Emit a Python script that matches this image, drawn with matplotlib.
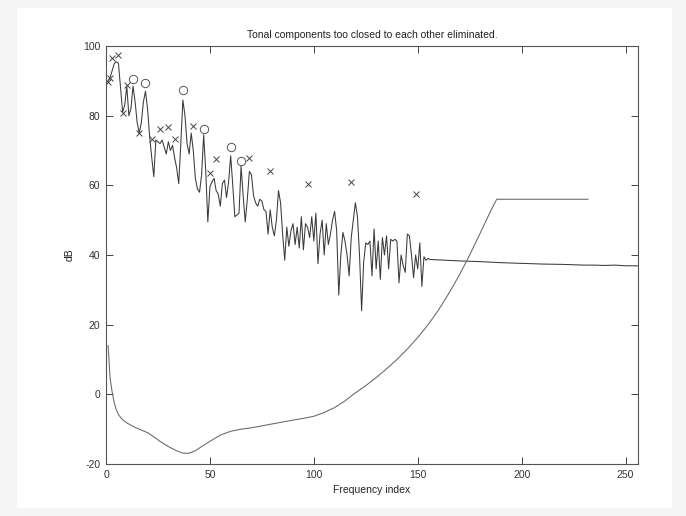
import matplotlib.pyplot as plt
from matplotlib.patches import Rectangle

# power spectrum, frequency index 1..155 (noisy part)
spec_db = [
    90, 91, 93, 95, 95.5, 95, 88, 81, 83, 88.5,
    80, 82, 88.5, 84, 78, 75, 78, 84, 87, 82,
    74, 68, 62.5, 73, 72.5, 72, 73, 71, 69, 72.5,
    70, 71.5, 68, 65, 60.5, 72, 84.5, 80, 72, 69,
    75, 70, 62, 59, 58, 63, 74.5, 64, 49.5, 59.5,
    61, 62, 58.5, 57.5, 54, 60.5, 61.5, 56.5, 61, 68.5,
    60, 51, 51.5, 52, 65.5, 57, 49.5, 56, 64, 63,
    57, 55, 54, 56, 55.5, 53, 52.5, 46, 53, 48,
    45.5, 50, 58.5, 55, 46, 38.5, 48, 42.5, 47, 49,
    43, 48, 42, 51, 41.5, 49, 48, 45, 51, 44,
    52, 37.5, 46, 50, 40, 49, 43, 46, 50, 52.5,
    47, 28.5, 40, 46.5, 44, 40, 34, 45, 50, 55,
    51, 40, 24, 38, 43.5, 43, 44, 34, 47.5, 36,
    44, 33, 45, 40, 45.5, 36, 44.5, 44, 44.5, 44,
    32, 40, 37, 35, 46, 45.5, 40, 33.5, 40, 36,
    43.5, 31, 39.5, 38.5, 39,
]
spec_idx = list(range(1, len(spec_db) + 1))

# smooth upper part of the spectrum
tail_idx = [156, 160, 170, 180, 190, 200, 210, 220, 225, 230, 235, 240, 245, 250, 256]
tail_db = [38.7, 38.6, 38.3, 38.1, 37.8, 37.6, 37.4, 37.3, 37.2, 37.1, 37.1, 37.0, 37.1, 36.9, 36.9]

# absolute threshold of hearing
ath_idx = [1, 2, 3, 4, 5, 6, 7, 8, 10, 13, 16, 18, 20, 23, 26, 30, 34, 37, 40, 43, 46,
           50, 55, 60, 65, 70, 80, 90, 95, 100, 105, 110, 115, 119, 125, 130, 135, 140,
           145, 150, 155, 160, 165, 170, 175, 180, 185, 188, 232]
ath_db = [14, 4.5, 0.5, -2.5, -4.5, -5.8, -6.6, -7.3, -8.2, -9.2, -10, -10.5, -11, -12.2,
          -13.5, -15, -16.2, -16.9, -16.9, -16.2, -15, -13.5, -11.7, -10.6, -10, -9.6,
          -8.5, -7.4, -6.9, -6.3, -5.2, -3.8, -1.9, 0, 2.5, 4.8, 7.3, 10, 13, 16.3, 20,
          24.2, 29, 34.2, 40, 46.2, 52.5, 56, 56]

# non-tonal components (x) and tonal components (o)
nontonal_idx = [1, 2, 3, 6, 8, 10, 16, 22, 26, 30, 33, 42, 50, 53, 69, 79, 97, 118, 149]
nontonal_db = [89.8, 90.8, 96.6, 97.4, 80.9, 88.8, 75.1, 73.2, 76.2, 76.8, 73.2, 77.1,
               63.5, 67.6, 67.9, 64.2, 60.4, 60.9, 57.4]
tonal_idx = [13, 19, 37, 47, 60, 65]
tonal_db = [90.4, 89.5, 87.4, 76.3, 71.1, 67.1]

plt.rcParams['font.family'] = ['Liberation Sans', 'DejaVu Sans']
plt.rcParams['font.size'] = 7.5
plt.rcParams['axes.unicode_minus'] = False

fig = plt.figure(figsize=(6.86, 5.16), dpi=100, facecolor='#f5f5f5')
fig.patches.append(Rectangle((17 / 686, 8 / 516), 655 / 686, 500 / 516,
                             transform=fig.transFigure, facecolor='white',
                             edgecolor='none', zorder=-1))
ax = fig.add_axes([106 / 686, 52 / 516, 532 / 686, 418 / 516])

ax.plot(spec_idx + tail_idx, spec_db + tail_db, color='#3a3a3a', lw=0.75)
ax.plot(ath_idx, ath_db, color='#666666', lw=0.75)
ax.plot(nontonal_idx, nontonal_db, 'x', color='#444444', ms=4.5, mew=0.7)
ax.plot(tonal_idx, tonal_db, 'o', mfc='none', mec='#555555', ms=6, mew=0.7)

ax.set_xlim(0, 256)
ax.set_ylim(-20, 100)
ax.set_xticks([0, 50, 100, 150, 200, 250])
ax.set_yticks([-20, 0, 20, 40, 60, 80, 100])
ax.tick_params(direction='in', top=True, right=True, length=5, width=0.7,
               colors='#444444', labelcolor='#333333', pad=4)
for s in ax.spines.values():
    s.set_color('#555555')
    s.set_linewidth(0.8)

ax.set_title('Tonal components too closed to each other eliminated.',
             fontsize=7.5, color='#222222', pad=6)
ax.set_xlabel('Frequency index', color='#222222', labelpad=4)
ax.set_ylabel('dB', color='#222222', labelpad=6)

fig.savefig('out.png', dpi=100, facecolor=fig.get_facecolor())
